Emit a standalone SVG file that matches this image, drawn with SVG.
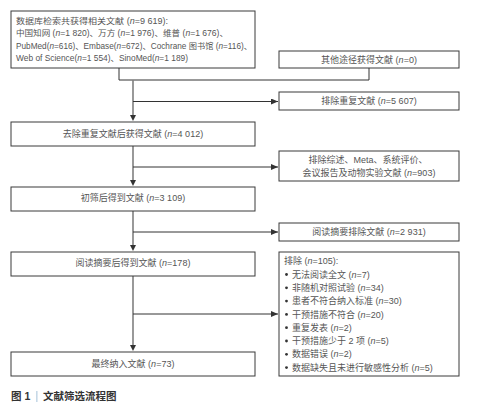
<svg xmlns="http://www.w3.org/2000/svg" width="479" height="420" viewBox="0 0 479 420">
<defs>
<style>
.box{fill:#fff;stroke:#3a3a3a;stroke-width:1}
.t{font-family:"Liberation Sans","Noto Sans CJK SC",sans-serif;font-size:9px;fill:#555}
.s{font-size:8.2px}
.c{text-anchor:middle}
.main{stroke:#808080;stroke-width:1.6;fill:none}
.br{stroke:#333;stroke-width:1;fill:none}
.cap{font-family:"Liberation Sans","Noto Sans CJK SC",sans-serif;font-size:10.5px;font-weight:bold;fill:#333}
</style>
<marker id="ah" markerWidth="8" markerHeight="6" refX="7" refY="3" orient="auto" markerUnits="userSpaceOnUse">
<path d="M0,0 L7,3 L0,6 Z" fill="#333"/>
</marker>
</defs>
<rect width="479" height="420" fill="#fff"/>
<g id="connectors">
<path class="br" d="M119,68 V80 H369 V68"/>
<path class="main" d="M133,80 V115"/>
<path d="M130,115 L136,115 L133,121 Z" fill="#333"/>
<path class="br" d="M133,101.5 H278" marker-end="url(#ah)"/>
<path class="main" d="M133,146 V180"/>
<path d="M130,180 L136,180 L133,186 Z" fill="#333"/>
<path class="br" d="M133,167 H278" marker-end="url(#ah)"/>
<path class="main" d="M133,211 V245"/>
<path d="M130,245 L136,245 L133,251 Z" fill="#333"/>
<path class="br" d="M133,232 H278" marker-end="url(#ah)"/>
<path class="main" d="M133,276 V345"/>
<path d="M130,345 L136,345 L133,351 Z" fill="#333"/>
<path class="br" d="M133,314 H278" marker-end="url(#ah)"/>
</g>
<g id="n1">
<rect class="box" x="11" y="11" width="244" height="57"/>
<text class="t s" x="16" y="23.5" textLength="152" lengthAdjust="spacingAndGlyphs">数据库检索共获得相关文献 (<tspan font-style="italic">n</tspan>=9 619):</text>
<text class="t s" x="16" y="36" textLength="212" lengthAdjust="spacingAndGlyphs">中国知网 (<tspan font-style="italic">n</tspan>=1 820)、万方 (<tspan font-style="italic">n</tspan>=1 976)、维普 (<tspan font-style="italic">n</tspan>=1 676)、</text>
<text class="t s" x="16" y="48.5" textLength="236" lengthAdjust="spacingAndGlyphs">PubMed(<tspan font-style="italic">n</tspan>=616)、Embase(<tspan font-style="italic">n</tspan>=672)、Cochrane 图书馆 (<tspan font-style="italic">n</tspan>=116)、</text>
<text class="t s" x="16" y="61" textLength="172" lengthAdjust="spacingAndGlyphs">Web of Science(<tspan font-style="italic">n</tspan>=1 554)、SinoMed(<tspan font-style="italic">n</tspan>=1 189)</text>
</g>
<g id="n2">
<rect class="box" x="279" y="51" width="180" height="17"/>
<text class="t c" x="369" y="62.8">其他途径获得文献 (<tspan font-style="italic">n</tspan>=0)</text>
</g>
<g id="n3">
<rect class="box" x="279" y="92" width="180" height="18"/>
<text class="t c" x="369" y="104.3">排除重复文献 (<tspan font-style="italic">n</tspan>=5 607)</text>
</g>
<g id="n4">
<rect class="box" x="11" y="122" width="244" height="24"/>
<text class="t c" x="133" y="137.3">去除重复文献后获得文献 (<tspan font-style="italic">n</tspan>=4 012)</text>
</g>
<g id="n5">
<rect class="box" x="279" y="151" width="180" height="30"/>
<text class="t c" x="368" y="163.3">排除综述、Meta、系统评价、</text>
<text class="t c" x="369" y="176.3">会议报告及动物实验文献 (<tspan font-style="italic">n</tspan>=903)</text>
</g>
<g id="n6">
<rect class="box" x="11" y="187" width="244" height="24"/>
<text class="t c" x="133" y="201.3">初筛后得到文献 (<tspan font-style="italic">n</tspan>=3 109)</text>
</g>
<g id="n7">
<rect class="box" x="279" y="223" width="180" height="18"/>
<text class="t c" x="369" y="235.3">阅读摘要排除文献 (<tspan font-style="italic">n</tspan>=2 931)</text>
</g>
<g id="n8">
<rect class="box" x="11" y="252" width="244" height="24"/>
<text class="t c" x="133" y="266.3">阅读摘要后得到文献 (<tspan font-style="italic">n</tspan>=178)</text>
</g>
<g id="n9">
<rect class="box" x="279" y="252" width="180" height="124"/>
<text class="t" x="284" y="264.3">排除 (<tspan font-style="italic">n</tspan>=105):</text>
<g fill="#333">
<circle cx="286.5" cy="274.5" r="1.4"/>
<circle cx="286.5" cy="287.8" r="1.4"/>
<circle cx="286.5" cy="301.1" r="1.4"/>
<circle cx="286.5" cy="314.4" r="1.4"/>
<circle cx="286.5" cy="327.7" r="1.4"/>
<circle cx="286.5" cy="341" r="1.4"/>
<circle cx="286.5" cy="354.3" r="1.4"/>
<circle cx="286.5" cy="367.6" r="1.4"/>
</g>
<text class="t" x="292" y="277.6">无法阅读全文 (<tspan font-style="italic">n</tspan>=7)</text>
<text class="t" x="292" y="290.9">非随机对照试验 (<tspan font-style="italic">n</tspan>=34)</text>
<text class="t" x="292" y="304.2">患者不符合纳入标准 (<tspan font-style="italic">n</tspan>=30)</text>
<text class="t" x="292" y="317.5">干预措施不符合 (<tspan font-style="italic">n</tspan>=20)</text>
<text class="t" x="292" y="330.8">重复发表 (<tspan font-style="italic">n</tspan>=2)</text>
<text class="t" x="292" y="344.1">干预措施少于 2 项 (<tspan font-style="italic">n</tspan>=5)</text>
<text class="t" x="292" y="357.4">数据错误 (<tspan font-style="italic">n</tspan>=2)</text>
<text class="t" x="292" y="370.7">数据缺失且未进行敏感性分析 (<tspan font-style="italic">n</tspan>=5)</text>
</g>
<g id="n10">
<rect class="box" x="11" y="352" width="244" height="24"/>
<text class="t c" x="133" y="367.3">最终纳入文献 (<tspan font-style="italic">n</tspan>=73)</text>
</g>
<g id="caption">
<text class="cap" x="11" y="400">图 1</text>
<rect x="36.5" y="391" width="0.8" height="11" fill="#8fb3d0"/>
<text class="cap" x="43" y="400">文献筛选流程图</text>
</g>
</svg>
